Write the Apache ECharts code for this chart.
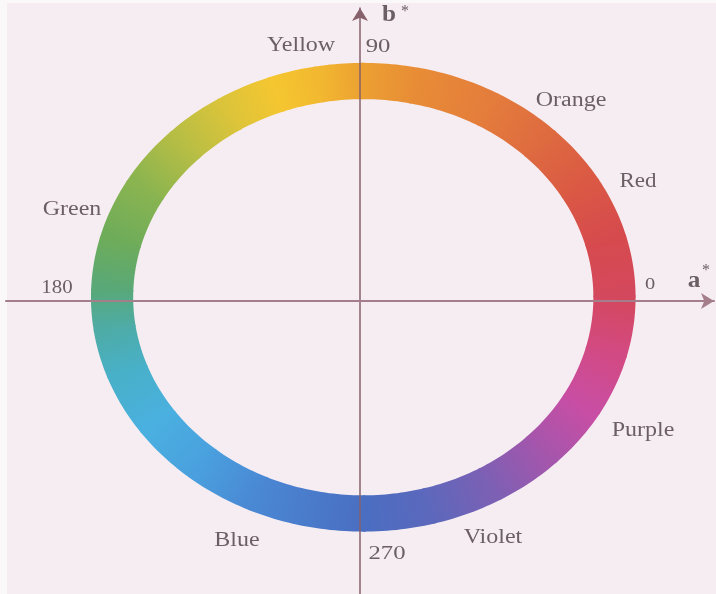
<!DOCTYPE html>
<html>
<head>
<meta charset="utf-8">
<title>CIELAB hue circle</title>
<script src="https://cdn.jsdelivr.net/npm/echarts@6/dist/echarts.min.js"></script>
<style>
  html, body { margin: 0; padding: 0; background: #fbf8fa; }
  #chart { width: 716px; height: 594px; }
</style>
</head>
<body>
<div id="chart"></div>
<script>
// hue stops round the ring, angle in degrees from +a* counter-clockwise
const hueAngles = [0, 15, 30, 45, 60, 78, 90, 100, 110, 122, 135, 150, 165, 178, 188, 200, 215, 230, 245, 270, 285, 300, 315, 330, 345, 360];
const hueColors = ['#d4485e', '#d64a4e', '#da5844', '#de6a40', '#e47c3c', '#e88c36', '#eca032', '#f2b830', '#f5c630', '#dcc43a',
  '#b8be44', '#8ab450', '#6eac5a', '#58a878', '#4eaca6', '#48b0c8', '#4ab0e0', '#4aa0de', '#4a88d4', '#4a6ec2',
  '#5c68bc', '#7c60b4', '#a456ac', '#c84ea4', '#d24a84', '#d4485e'];
// ring in a*/b* units
const ringOuter = 1.0;
const ringInner = 0.845;
const ringCenter = [0.012, 0.016];

const hueNames = ['Yellow', 'Orange', 'Red', 'Purple', 'Violet', 'Blue', 'Green'];
const degreeLabels = ['0', '90', '180', '270'];
const axisNames = ['a*', 'b*'];

let segments = [];
for (let i = 0; i < hueAngles.length - 1; i++) {
  segments.push([hueAngles[i], hueAngles[i + 1], i]);
}

function ringPoint(api, deg, r) {
  let t = deg * Math.PI / 180;
  return api.coord([ringCenter[0] + r * Math.cos(t), ringCenter[1] + r * Math.sin(t)]);
}

function renderSegment(params, api) {
  let a0 = api.value(0);
  let a1 = api.value(1);
  let i = api.value(2);
  let end = a1 + 0.5; // small overlap hides seams
  let pts = [];
  for (let a = a0; a < end; a += 1) pts.push(ringPoint(api, a, ringOuter));
  pts.push(ringPoint(api, end, ringOuter));
  for (let a = end; a > a0; a -= 1) pts.push(ringPoint(api, a, ringInner));
  pts.push(ringPoint(api, a0, ringInner));
  let mid = (ringOuter + ringInner) / 2;
  let p0 = ringPoint(api, a0, mid);
  let p1 = ringPoint(api, a1, mid);
  return {
    type: 'polygon',
    shape: { points: pts },
    style: {
      fill: new echarts.graphic.LinearGradient(p0[0], p0[1], p1[0], p1[1], [
        { offset: 0, color: hueColors[i] },
        { offset: 1, color: hueColors[i + 1] }
      ], true)
    }
  };
}

const textColor = '#6c5f64';
const serif = '"Liberation Serif", "DejaVu Serif", serif';

function label(text, x, y, font, sx) {
  return {
    type: 'text', x: x, y: y, scaleX: sx, z: 20,
    style: {
      text: text, font: font + ' ' + serif, fill: textColor,
      align: 'center', verticalAlign: 'middle'
    }
  };
}

let chart = echarts.init(document.getElementById('chart'));
chart.setOption({
  backgroundColor: '#fbf8fa',
  animation: false,
  grid: { left: 6, width: 708, top: 8, height: 589 },
  xAxis: {
    type: 'value', min: -1.3, max: 1.3, z: 10,
    axisLine: { onZero: true, symbol: ['none', 'arrow'], symbolSize: [12, 13], lineStyle: { color: '#a47e8a', width: 2 } },
    axisTick: { show: false }, axisLabel: { show: false }, splitLine: { show: false }
  },
  yAxis: {
    type: 'value', min: -1.25, max: 1.25, z: 10,
    axisLine: { onZero: true, symbol: ['none', 'arrow'], symbolSize: [12, 13], lineStyle: { color: '#86606a', width: 1.5 } },
    axisTick: { show: false }, axisLabel: { show: false }, splitLine: { show: false }
  },
  graphic: [
    { type: 'rect', shape: { x: 7, y: 3, width: 709, height: 591 }, style: { fill: '#f6edf2' }, z: -10 },
    label(hueNames[0], 301, 46, '20px', 1.2),
    label(hueNames[1], 571, 101, '20px', 1.2),
    label(hueNames[2], 638, 182, '20px', 1.15),
    label(hueNames[3], 643, 431, '20px', 1.2),
    label(hueNames[4], 493, 538, '20px', 1.2),
    label(hueNames[5], 237, 541, '20px', 1.2),
    label(hueNames[6], 72, 210, '20px', 1.2),
    label(degreeLabels[0], 650, 285, '17px', 1.2),
    label(degreeLabels[1], 378, 47, '19px', 1.3),
    label(degreeLabels[2], 57, 288, '19px', 1.1),
    label(degreeLabels[3], 387, 554, '19px', 1.3),
    label(axisNames[0].charAt(0), 694, 281, 'bold 24px', 1.05),
    label(axisNames[0].charAt(1), 706, 271, '16px', 1),
    label(axisNames[1].charAt(0), 389, 15, 'bold 24px', 1.05),
    label(axisNames[1].charAt(1), 405, 12, '16px', 1)
  ],
  series: [{
    type: 'custom',
    coordinateSystem: 'cartesian2d',
    renderItem: renderSegment,
    data: segments,
    z: 2,
    silent: true
  }]
});
</script>
</body>
</html>
